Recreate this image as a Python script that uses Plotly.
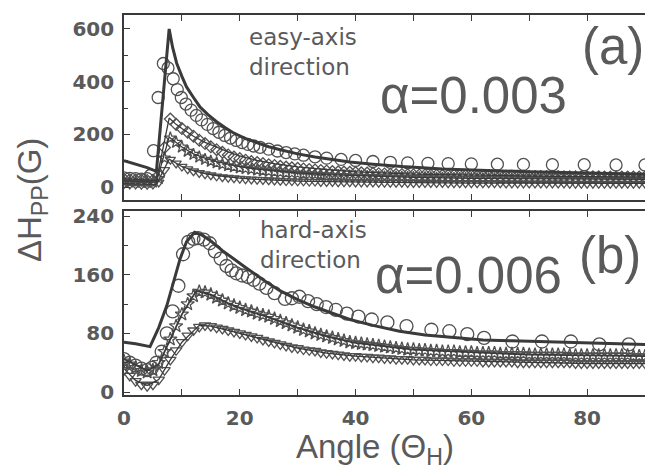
import plotly.graph_objects as go

# ---------------- data: panel (a), easy-axis direction ----------------
deg = list(range(0, 91))

a_circ_x = [0, 1, 2, 3, 4, 4.6, 5.1, 5.9, 6.8, 7.6, 8.5, 9.2, 9.9, 10.7, 11.6, 12.5, 13.4, 14.4,
            15.4, 16.4, 17.4, 18.4, 19.4, 20.4, 21.4, 22.4, 23.5, 25, 26.5, 28, 29.5, 31, 33, 35,
            37.5, 40, 43, 46, 49, 52.5, 56, 60, 64.5, 69, 74, 79.5, 85, 90]
a_circ_y = [35, 33, 32, 30, 32, 45, 138, 340, 469, 452, 411, 370, 340, 315, 292, 272, 255, 238,
            222, 208, 196, 186, 177, 169, 162, 156, 151, 144, 137, 131, 126, 121, 115, 110,
            105, 101, 97, 94, 92, 90, 89, 88, 87, 86, 85, 85, 84, 84]

a_dia_y = [30, 28, 27, 26, 25, 26, 45, 150, 258, 238,
           222, 208, 193, 178, 165, 153, 142, 132, 122, 114,
           108, 102, 97, 93, 89, 85, 82, 79, 76, 73,
           71, 69, 67, 65, 63, 61, 59, 58, 57, 56,
           55, 54, 53, 52, 51, 50, 49, 48, 48, 47,
           47, 46, 46, 45, 45, 44, 44, 44, 43, 43,
           43, 42, 42, 42, 42, 41, 41, 41, 41, 41,
           40, 40, 40, 40, 40, 40, 39, 39, 39, 39,
           39, 39, 39, 38, 38, 38, 38, 38, 38, 38, 38]

a_star_y = [22, 20, 19, 18, 18, 19, 32, 110, 186, 170,
            152, 136, 124, 114, 105, 98, 92, 86, 81, 77,
            73, 70, 67, 64, 62, 60, 58, 56, 54, 53,
            51, 50, 49, 48, 47, 46, 45, 44, 43, 42,
            41, 41, 40, 39, 39, 38, 38, 37, 37, 36,
            36, 35, 35, 35, 34, 34, 34, 33, 33, 33,
            33, 32, 32, 32, 32, 31, 31, 31, 31, 31,
            30, 30, 30, 30, 30, 30, 29, 29, 29, 29,
            29, 29, 29, 28, 28, 28, 28, 28, 28, 28, 28]

a_tri_y = [12, 10, 10, 9, 9, 10, 18, 65, 104, 90,
           78, 68, 60, 54, 49, 45, 41, 38, 36, 34,
           32, 30, 29, 28, 27, 26, 25, 24, 23, 23,
           22, 22, 21, 21, 20, 20, 20, 19, 19, 19,
           18, 18, 18, 18, 17, 17, 17, 17, 17, 16,
           16, 16, 16, 16, 16, 16, 15, 15, 15, 15,
           15, 15, 15, 15, 15, 15, 14, 14, 14, 14,
           14, 14, 14, 14, 14, 14, 14, 13, 13, 13,
           13, 13, 13, 13, 13, 13, 13, 13, 13, 13, 13]

# calculated linewidth curves, panel (a)
a_fit_x = [0, 2, 4, 5.6, 7.8, 8.4, 9.1, 10, 10.8, 12, 13.1, 14.5, 16, 17.5, 18.8, 21, 23, 25,
           27, 30, 33, 36, 39, 43, 48, 55, 62, 70, 80, 90]
a_fit_y = [100, 88, 74, 60, 600, 530, 470, 420, 380, 340, 305, 275, 248, 225, 207, 184, 167, 153,
           142, 126, 114, 104, 95, 87, 78, 69, 63, 58, 53, 49]
a_sub_x = [0, 3, 5.6, 7.8, 9, 10, 12, 14, 16, 18, 20, 23, 26, 30, 35, 40, 50, 60, 70, 80, 90]
a_dia_fit = [32, 28, 25, 262, 238, 222, 193, 170, 151, 134, 118, 101, 89, 77, 66, 58, 49, 45, 42, 40, 39]
a_star_fit = [24, 21, 19, 190, 168, 152, 126, 110, 97, 87, 78, 68, 61, 54, 47, 43, 37, 33, 31, 30, 29]
a_tri_fit = [13, 11, 10, 106, 90, 78, 62, 51, 44, 38, 34, 29, 26, 23, 21, 19, 17, 15, 15, 14, 14]

# ---------------- data: panel (b), hard-axis direction ----------------
b_circ_x = [0, 1, 2, 3, 4, 4.8, 5.6, 6.5, 7.4, 8.4, 9.4, 10.2, 11.1, 12, 12.8, 13.8, 14.8, 15.7,
            16.7, 17.7, 18.6, 19.4, 20.4, 21.4, 22.4, 23.4, 24.6, 26, 27.8, 29, 30.3, 31.8, 33.3,
            34.9, 36.6, 38.5, 40.5, 42.8, 45.5, 48.8, 53.1, 56.2, 59.3, 62.2, 67.1, 72.2, 77.2,
            82.1, 87.2]
b_circ_y = [45, 40, 36, 32, 30, 33, 40, 55, 80, 110, 145, 188, 205, 209, 210, 208, 203, 192,
            182, 172, 166, 162, 159, 157, 153, 148, 142, 135, 127, 128, 130, 124, 120,
            116, 112, 107, 103, 99, 95, 90, 85, 83, 79, 74, 69, 69, 69,
            65, 65]

b_star_y = [42, 38, 33, 29, 27, 30, 40, 55, 72, 90,
            106, 120, 131, 137, 136, 133, 129, 125, 121, 118,
            115, 112, 110, 107, 105, 103, 100, 97, 94, 91,
            88, 85, 83, 80, 78, 76, 74, 72, 70, 68,
            67, 66, 65, 64, 63, 62, 61, 60, 59, 58,
            58, 57, 57, 56, 56, 55, 55, 55, 54, 54,
            54, 53, 53, 53, 53, 52, 52, 52, 52, 52,
            51, 51, 51, 51, 51, 51, 51, 50, 50, 50,
            50, 50, 50, 50, 50, 50, 50, 50, 49, 49, 49]

b_tri_y = [30, 22, 15, 10, 8, 10, 17, 30, 44, 57,
           68, 77, 84, 89, 91, 90, 88, 86, 84, 82,
           80, 78, 76, 74, 71, 69, 67, 65, 63, 61,
           60, 58, 57, 56, 54, 53, 52, 51, 50, 49,
           49, 48, 48, 47, 47, 46, 46, 45, 45, 45,
           44, 44, 44, 43, 43, 43, 43, 42, 42, 42,
           42, 42, 41, 41, 41, 41, 41, 41, 40, 40,
           40, 40, 40, 40, 40, 40, 40, 40, 39, 39,
           39, 39, 39, 39, 39, 39, 39, 39, 39, 39, 39]

b_fit_x = [0, 2, 4.5, 6, 7.4, 8.5, 9.7, 10.8, 12.2, 13.5, 15, 17, 19, 21, 23, 24.6, 27, 30, 33,
           36, 39, 43, 47.6, 52, 57, 62, 67, 72, 78, 84, 90]
b_fit_y = [68, 66, 62, 88, 118, 150, 182, 205, 218, 214, 206, 193, 181, 170, 159, 150, 138, 126,
           116, 107, 99, 91, 83, 78, 74, 71, 70, 69, 67, 66, 65]
b_star_fit_x = [0, 2, 4, 6, 8, 10, 12.5, 15, 18, 21, 25, 30, 35, 40, 50, 60, 70, 80, 90]
b_star_fit = [45, 37, 29, 38, 72, 106, 138, 133, 121, 112, 102, 88, 76, 67, 58, 54, 51, 50, 49]
b_tri_fit_x = [0, 2, 4, 6, 8, 10, 13, 15, 18, 21, 25, 30, 35, 40, 50, 60, 70, 80, 90]
b_tri_fit = [32, 16, 9, 17, 44, 68, 91, 90, 84, 78, 69, 60, 53, 49, 44, 42, 40, 39, 39]

# ---------------- styling ----------------
W, H = 645, 473
ML, MR, MT, MB = 124, 0, 15, 78
INK = "#3a3a3a"
MARK = "#505050"
TXT = "#5a5a5a"


def px(x):
    return (x - ML) / (W - ML - MR)


def py(y):
    return (H - MB - y) / (H - MT - MB)


fig = go.Figure()


def markers(x, y, symbol, size, yaxis):
    # open symbols take their outline colour from marker.color
    fig.add_trace(go.Scatter(
        x=x, y=y, mode="markers", yaxis=yaxis, xaxis="x" if yaxis == "y" else "x2",
        marker=dict(symbol=symbol, size=size, color=MARK, line=dict(width=1.3)),
        showlegend=False, hoverinfo="skip"))


def curve(x, y, width, yaxis):
    fig.add_trace(go.Scatter(
        x=x, y=y, mode="lines", yaxis=yaxis, xaxis="x" if yaxis == "y" else "x2",
        line=dict(color=INK, width=width), showlegend=False, hoverinfo="skip"))


# panel (b) -> bottom axes (x, y); panel (a) -> top axes (x2, y2)
markers(deg, a_tri_y, "triangle-down-open", 9, "y2")
markers(deg, a_star_y, "star-open", 9, "y2")
markers(deg, a_dia_y, "diamond-open", 9, "y2")
markers(a_circ_x, a_circ_y, "circle-open", 12, "y2")
curve(a_sub_x, a_tri_fit, 1.3, "y2")
curve(a_sub_x, a_star_fit, 1.3, "y2")
curve(a_sub_x, a_dia_fit, 1.3, "y2")
curve(a_fit_x, a_fit_y, 3, "y2")

markers(deg, b_tri_y, "triangle-down-open", 10, "y")
markers(deg, b_star_y, "star-open", 10, "y")
markers(b_circ_x, b_circ_y, "circle-open", 13, "y")
curve(b_tri_fit_x, b_tri_fit, 1.3, "y")
curve(b_star_fit_x, b_star_fit, 1.8, "y")
curve(b_fit_x, b_fit_y, 3, "y")

tickfont = dict(family="DejaVu Sans", size=20, color=TXT, weight=700)
axis_common = dict(showline=True, linecolor=INK, linewidth=1.6, ticks="inside",
                   tickcolor=INK, tickwidth=1.4, showgrid=False, zeroline=False)

x_common = dict(axis_common, range=[0, 90], dtick=20, tick0=0, ticklen=6,
                minor=dict(dtick=10, ticks="inside", ticklen=6, tickcolor=INK, tickwidth=1.4),
                mirror="allticks")

fig.update_layout(
    width=W, height=H,
    margin=dict(l=ML, r=MR, t=MT, b=MB),
    paper_bgcolor="white", plot_bgcolor="white",
    xaxis=dict(x_common, anchor="y", tickfont=tickfont, ticklabelstandoff=4),
    xaxis2=dict(x_common, anchor="y2", matches="x", showticklabels=False),
    yaxis=dict(axis_common, domain=[0, py(211)], range=[-4, 247], tickvals=[0, 80, 160, 240],
               ticklen=6, minor=dict(tickvals=[40, 120, 200], ticks="inside", ticklen=4,
                                     tickcolor=INK, tickwidth=1.2),
               tickfont=tickfont, ticklabelstandoff=4),
    yaxis2=dict(axis_common, domain=[py(200), 1], range=[-49, 653], tickvals=[0, 200, 400, 600],
                ticklen=6, minor=dict(tickvals=[100, 300, 500], ticks="inside", ticklen=4,
                                      tickcolor=INK, tickwidth=1.2),
                tickfont=tickfont, ticklabelstandoff=4),
)

ann_font = dict(family="DejaVu Sans", size=23, color=TXT)
big_font = dict(family="Liberation Sans, Arial, sans-serif", size=51, color=TXT)
title_font = dict(family="Liberation Sans, Arial, sans-serif", size=33, color=TXT)

annotations = [
    dict(text="easy-axis<br>direction", x=px(247), y=py(22), xanchor="left", yanchor="top",
         align="left", font=ann_font),
    dict(text="hard-axis<br>direction", x=px(258), y=py(215), xanchor="left", yanchor="top",
         align="left", font=ann_font),
    dict(text="α=0.003", x=px(378), y=py(95), xanchor="left", yanchor="middle", font=big_font),
    dict(text="α=0.006", x=px(373), y=py(275), xanchor="left", yanchor="middle", font=big_font),
    dict(text="(a)", x=px(613), y=py(46), xanchor="center", yanchor="middle", font=big_font),
    dict(text="(b)", x=px(610), y=py(255), xanchor="center", yanchor="middle", font=big_font),
    dict(text="Angle (Θ<sub>H</sub>)", x=px(375), y=py(449), xanchor="center", yanchor="middle",
         font=title_font),
    dict(text="ΔH<sub>PP</sub>(G)", x=px(32), y=py(200), xanchor="center", yanchor="middle",
         textangle=-90, font=title_font),
]
for a in annotations:
    a.update(xref="paper", yref="paper", showarrow=False)
fig.update_layout(annotations=annotations)

fig.write_html("out.html")
